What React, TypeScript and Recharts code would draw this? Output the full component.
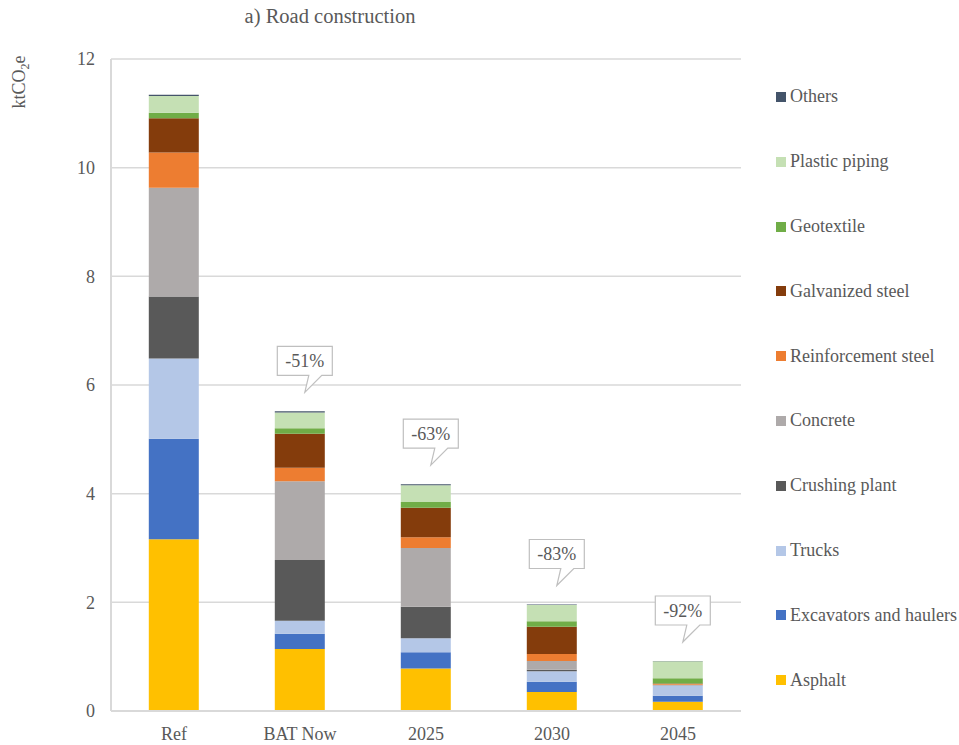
import { BarChart, Bar, XAxis, YAxis, CartesianGrid, LabelList } from "recharts";

const categories = ["Ref", "BAT Now", "2025", "2030", "2045"];
const asphalt = [3.16, 1.14, 0.78, 0.35, 0.17];
const excavators = [1.85, 0.28, 0.3, 0.19, 0.11];
const trucks = [1.48, 0.24, 0.26, 0.19, 0.19];
const crushing = [1.14, 1.12, 0.58, 0.03, 0.005];
const concrete = [2.0, 1.45, 1.08, 0.16, 0.01];
const reinforcement = [0.65, 0.245, 0.2, 0.13, 0.01];
const galvanized = [0.63, 0.63, 0.54, 0.5, 0.01];
const geotextile = [0.1, 0.1, 0.105, 0.1, 0.1];
const plastic = [0.31, 0.29, 0.31, 0.3, 0.31];
const others = [0.02, 0.02, 0.02, 0.01, 0.005];
const callouts = ["", "-51%", "-63%", "-83%", "-92%"];
const yTicks = [0, 2, 4, 6, 8, 10, 12];

// stacked bottom to top
const series = [
  { key: "asphalt", name: "Asphalt", color: "#FFC000", values: asphalt },
  { key: "excavators", name: "Excavators and haulers", color: "#4472C4", values: excavators },
  { key: "trucks", name: "Trucks", color: "#B4C7E7", values: trucks },
  { key: "crushing", name: "Crushing plant", color: "#595959", values: crushing },
  { key: "concrete", name: "Concrete", color: "#AEAAAA", values: concrete },
  { key: "reinforcement", name: "Reinforcement steel", color: "#ED7D31", values: reinforcement },
  { key: "galvanized", name: "Galvanized steel", color: "#843C0C", values: galvanized },
  { key: "geotextile", name: "Geotextile", color: "#70AD47", values: geotextile },
  { key: "plastic", name: "Plastic piping", color: "#C5E0B4", values: plastic },
  { key: "others", name: "Others", color: "#44546A", values: others },
];

const data = categories.map((name, i) => {
  const row: Record<string, string | number> = { name, callout: callouts[i] };
  series.forEach((s) => (row[s.key] = s.values[i]));
  return row;
});

const FONT = "'Liberation Serif', 'DejaVu Serif', serif";
const TEXT = "#595959";
const GRID = "#d9d9d9";

function Callout(props: any) {
  const { x, y, width, value } = props;
  if (!value) return null;
  const tx = x + width / 2 + 5;
  const tipY = y - 19;
  const b = tipY - 17;
  const l = tx - 27.5;
  const r = tx + 27.5;
  const t = b - 29;
  const d = `M${l},${t} H${r} V${b} H${tx + 17} L${tx},${tipY} L${tx + 4},${b} H${l} Z`;
  return (
    <g>
      <path d={d} fill="#fff" stroke="#bfbfbf" strokeWidth={1.2} />
      <text
        x={tx}
        y={b - 14.5}
        textAnchor="middle"
        dominantBaseline="central"
        fontFamily={FONT}
        fontSize={18}
        fill={TEXT}
      >
        {value}
      </text>
    </g>
  );
}

export default function App() {
  const legendItems = [...series].reverse();
  return (
    <div style={{ position: "absolute", left: 0, top: 0, width: 959, height: 745, background: "#fff" }}>
      <BarChart
        width={959}
        height={745}
        data={data}
        margin={{ top: 59, right: 218, bottom: 4, left: 51 }}
        barCategoryGap="30%"
      >
        <CartesianGrid vertical={false} stroke={GRID} strokeWidth={1.5} />
        <XAxis
          dataKey="name"
          height={30}
          tickLine={false}
          tickSize={0}
          tickMargin={16}
          axisLine={{ stroke: GRID, strokeWidth: 2 }}
          tick={{ fontFamily: FONT, fontSize: 18, fill: TEXT }}
        />
        <YAxis
          width={60}
          domain={[0, 12]}
          ticks={yTicks}
          tickLine={false}
          tickSize={0}
          tickMargin={16}
          axisLine={{ stroke: GRID, strokeWidth: 2 }}
          tick={{ fontFamily: FONT, fontSize: 18, fill: TEXT }}
        />
        <YAxis
          yAxisId="r"
          orientation="right"
          width={0}
          tick={false}
          tickLine={false}
          axisLine={{ stroke: GRID, strokeWidth: 1.5 }}
        />
        {series.map((s) => (
          <Bar key={s.key} dataKey={s.key} stackId="a" fill={s.color} name={s.name} isAnimationActive={false}>
            {s.key === "others" && <LabelList dataKey="callout" content={Callout} />}
          </Bar>
        ))}
      </BarChart>

      <svg width={959} height={745} style={{ position: "absolute", left: 0, top: 0, pointerEvents: "none" }}>
        <text x={330} y={23} textAnchor="middle" fontFamily={FONT} fontSize={20.5} fill={TEXT}>
          a) Road construction
        </text>
        <text
          transform="translate(25,82) rotate(-90)"
          textAnchor="middle"
          fontFamily={FONT}
          fontSize={18}
          fill={TEXT}
        >
          ktCO<tspan fontSize={12} dy={4}>2</tspan>
          <tspan dy={-4}>e</tspan>
        </text>
      </svg>

      <div style={{ position: "absolute", left: 776, top: 64.6, width: 183 }}>
        {legendItems.map((s) => (
          <div
            key={s.key}
            style={{
              height: 64.8,
              display: "flex",
              alignItems: "center",
              fontFamily: FONT,
              fontSize: 18,
              color: TEXT,
              whiteSpace: "nowrap",
            }}
          >
            <span style={{ width: 10, height: 10, background: s.color, marginRight: 4, flexShrink: 0 }} />
            {s.name}
          </div>
        ))}
      </div>
    </div>
  );
}
